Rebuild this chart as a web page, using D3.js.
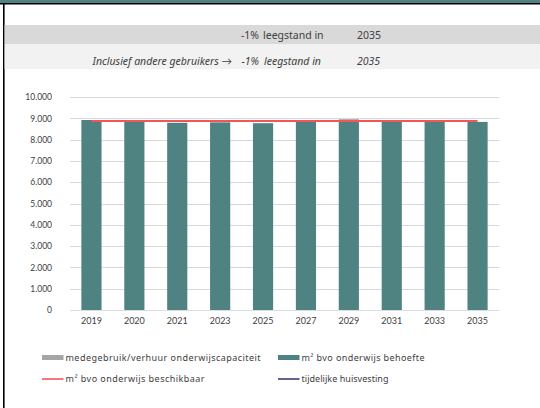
<!DOCTYPE html>
<html><head><meta charset="utf-8">
<script src="https://cdn.jsdelivr.net/npm/d3@7"></script>
<style>
body{margin:0;background:#fff;}
svg{display:block;font-family:"Noto Sans","Lato",sans-serif;}
</style></head>
<body><svg id="c" width="540" height="408"></svg>
<script>
const categories = ["2019","2020","2021","2023","2025","2027","2029","2031","2033","2035"];
const behoefte = [8920, 8830, 8790, 8810, 8770, 8840, 8840, 8830, 8830, 8830];
const medegebruik = [0, 0, 0, 0, 0, 0, 120, 0, 0, 0];
const beschikbaar = [8870, 8870, 8870, 8870, 8870, 8870, 8870, 8870, 8870, 8870];
const tijdelijk = [null, null, null, null, null, null, null, null, null, null];
const yTicks = [0,1000,2000,3000,4000,5000,6000,7000,8000,9000,10000];
const legendItems = [
  {label:"medegebruik/verhuur onderwijscapaciteit", type:"rect", color:"#a6a6a6"},
  {label:"m² bvo onderwijs behoefte", type:"rect", color:"#4e8382"},
  {label:"m² bvo onderwijs beschikbaar", type:"line", color:"#f4555a"},
  {label:"tijdelijke huisvesting", type:"line", color:"#403a78"}
];

const svg = d3.select("#c");
// frame
svg.append("rect").attr("x",0).attr("y",0).attr("width",540).attr("height",3).attr("fill","#4e8382");
svg.append("rect").attr("x",0).attr("y",3).attr("width",540).attr("height",1.5).attr("fill","#000");
svg.append("rect").attr("x",3).attr("y",3).attr("width",1.6).attr("height",405).attr("fill","#000");
// header bands
svg.append("rect").attr("x",4.6).attr("y",25).attr("width",536).attr("height",19).attr("fill","#d9d9d9");
svg.append("rect").attr("x",4.6).attr("y",44).attr("width",536).attr("height",25).attr("fill","#f2f2f2");

function addText(g, x, y, txt, len, anchor){
  const t = g.append("text").attr("x",x).attr("y",y).attr("text-anchor",anchor||"start").text(txt);
  if(len) t.attr("textLength",len).attr("lengthAdjust","spacing");
  return t;
}
const hdr = svg.append("g").attr("font-size",10.5).attr("fill","#404040");
addText(hdr,259,38.5,"-1%",null,"end");
addText(hdr,263,38.5,"leegstand in");
addText(hdr,357,38.5,"2035");
const hdr2 = svg.append("g").attr("font-size",10.5).attr("fill","#404040").attr("font-style","italic");
addText(hdr2,232,65,"Inclusief andere gebruikers \u2192",null,"end");
addText(hdr2,259,65,"-1%",null,"end");
addText(hdr2,264,65,"leegstand in");
addText(hdr2,357,65,"2035");

// chart
const x = d3.scaleBand().domain(categories).range([70,499]).paddingInner(0.53).paddingOuter(0.265);
const y = d3.scaleLinear().domain([0,10000]).range([310,97]);

const grid = svg.append("g");
grid.selectAll("line").data(yTicks.filter(d=>d>0)).join("line")
  .attr("x1",70).attr("x2",499).attr("y1",d=>Math.round(y(d))+0.5).attr("y2",d=>Math.round(y(d))+0.5)
  .attr("stroke","#d9d9d9").attr("stroke-width",1);

const yAxis = svg.append("g").attr("transform","translate(70,0)")
  .call(d3.axisLeft(y).tickValues(yTicks).tickSize(0).tickPadding(18)
    .tickFormat(d=>d3.format(",")(d).replace(/,/g,".")));
yAxis.select(".domain").remove();
yAxis.selectAll("text").attr("font-size",8.5).attr("fill","#404040").attr("font-family","Lato,'Open Sans',sans-serif");

// bars
svg.append("g").selectAll("rect").data(categories).join("rect")
  .attr("x",d=>x(d)).attr("width",x.bandwidth())
  .attr("y",(d,i)=>y(behoefte[i])).attr("height",(d,i)=>y(0)-y(behoefte[i]))
  .attr("fill","#4e8382");
svg.append("g").selectAll("rect").data(categories).join("rect")
  .attr("x",d=>x(d)).attr("width",x.bandwidth())
  .attr("y",(d,i)=>y(behoefte[i]+medegebruik[i])).attr("height",(d,i)=>y(behoefte[i])-y(behoefte[i]+medegebruik[i]))
  .attr("fill","#a6a6a6");

// baseline
svg.append("line").attr("x1",70).attr("x2",499).attr("y1",310.5).attr("y2",310.5).attr("stroke","#dcdce6").attr("stroke-width",1);

// lines
const line = d3.line().defined(d=>d!=null).x((d,i)=>x(categories[i])+x.bandwidth()/2).y(d=>y(d));
svg.append("path").datum(beschikbaar).attr("d",line).attr("fill","none").attr("stroke","#f4555a").attr("stroke-width",2);
svg.append("path").datum(tijdelijk).attr("d",line).attr("fill","none").attr("stroke","#403a78").attr("stroke-width",2);

const xAxis = svg.append("g").attr("transform","translate(0,310)")
  .call(d3.axisBottom(x).tickSize(0).tickPadding(8));
xAxis.select(".domain").remove();
xAxis.selectAll("text").attr("font-size",9).attr("fill","#404040").attr("font-family","Lato,'Open Sans',sans-serif");

// legend
const lpos = [[42,357.5],[278,357.5],[42,379],[278,379]];
const llen = [195,123,139,87];
const lg = svg.append("g").attr("font-size",9).attr("fill","#404040");
legendItems.forEach((it,i)=>{
  const [lx,ly] = lpos[i];
  if(it.type==="rect") lg.append("rect").attr("x",lx).attr("y",ly-2.5).attr("width",21.5).attr("height",5).attr("fill",it.color);
  else lg.append("line").attr("x1",lx).attr("x2",lx+21.5).attr("y1",ly).attr("y2",ly).attr("stroke",it.color).attr("stroke-width",1.6);
  addText(lg, lx+23.5, ly+3.2, it.label, llen[i]);
});
</script></body></html>
